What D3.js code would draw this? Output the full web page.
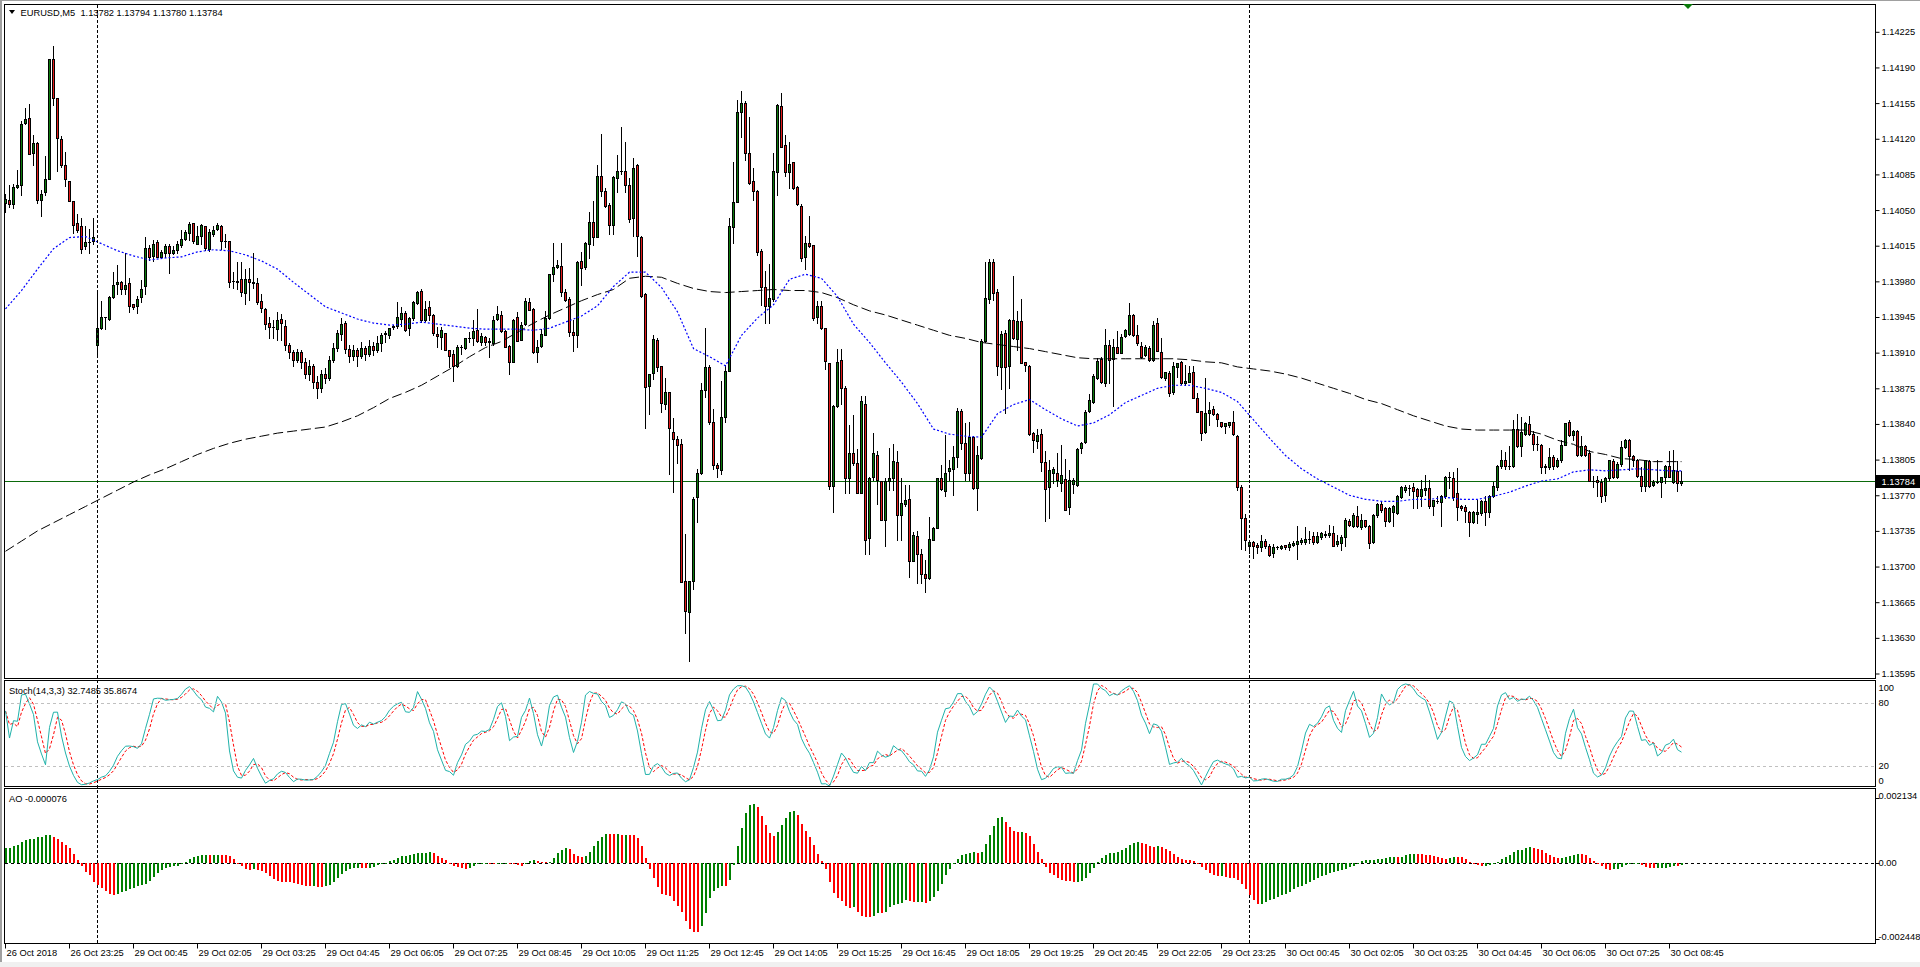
<!DOCTYPE html>
<html><head><meta charset="utf-8">
<script src="https://cdn.jsdelivr.net/npm/d3@7"></script>
<style>
html,body{margin:0;padding:0;background:#fff;overflow:hidden;}
svg{display:block;}
text{font-family:"Liberation Sans",Arial,sans-serif;font-size:9.3px;fill:#000;}
</style></head><body>
<svg id="c" width="1920" height="967"></svg>
<script>
// ---------------- DATA (EURUSD M5) ----------------
const opens=[
1.14057,1.14060,1.14056,1.14073,1.14075,1.14135,1.14140,1.14106,1.14116,1.14060,
1.14068,1.14080,1.14198,1.14160,1.14120,1.14094,1.14079,1.14059,1.14037,1.14034,
1.14015,1.14019,1.14020,1.13918,1.13934,1.13945,1.13943,1.13965,1.13977,1.13979,
1.13972,1.13978,1.13958,1.13956,1.13965,1.13975,1.14013,1.14005,1.14019,1.14004,
1.14008,1.14015,1.14008,1.14011,1.14016,1.14022,1.14027,1.14037,1.14017,1.14025,
1.14034,1.14012,1.14026,1.14031,1.14034,1.14020,1.14020,1.13980,1.13980,1.13982,
1.13969,1.13982,1.13979,1.13978,1.13961,1.13953,1.13939,1.13935,1.13933,1.13943,
1.13936,1.13918,1.13911,1.13903,1.13911,1.13901,1.13889,1.13897,1.13881,1.13875,
1.13889,1.13885,1.13903,1.13915,1.13928,1.13939,1.13914,1.13907,1.13913,1.13907,
1.13915,1.13909,1.13917,1.13913,1.13919,1.13928,1.13927,1.13935,1.13936,1.13943,
1.13949,1.13934,1.13944,1.13959,1.13971,1.13942,1.13955,1.13947,1.13928,1.13925,
1.13929,1.13913,1.13909,1.13897,1.13916,1.13915,1.13924,1.13924,1.13932,1.13920,
1.13925,1.13920,1.13919,1.13943,1.13947,1.13931,1.13917,1.13901,1.13945,1.13922,
1.13938,1.13960,1.13953,1.13911,1.13917,1.13927,1.13944,1.13987,1.13994,1.13995,
1.13970,1.13963,1.13930,1.13927,1.14000,1.13994,1.14017,1.14038,1.14024,1.14083,
1.14069,1.14055,1.14035,1.14081,1.14088,1.14088,1.14075,1.14042,1.14094,1.14024,
1.13968,1.13877,1.13890,1.13922,1.13897,1.13860,1.13871,1.13832,1.13825,1.13820,
1.13686,1.13655,1.13686,1.13768,1.13792,1.13873,1.13896,1.13842,1.13800,1.13795,
1.13847,1.13892,1.14033,1.14058,1.14146,1.14155,1.14106,1.14079,1.14069,1.14010,
1.13974,1.13956,1.13963,1.14087,1.14152,1.14114,1.14087,1.14097,1.14073,1.14054,
1.14004,1.14018,1.14016,1.13945,1.13956,1.13934,1.13900,1.13779,1.13858,1.13903,
1.13875,1.13787,1.13811,1.13802,1.13772,1.13860,1.13728,1.13788,1.13810,1.13784,
1.13746,1.13784,1.13787,1.13803,1.13751,1.13761,1.13766,1.13705,1.13730,1.13712,
1.13693,1.13689,1.13726,1.13738,1.13787,1.13774,1.13794,1.13796,1.13808,1.13853,
1.13821,1.13792,1.13827,1.13777,1.13807,1.13921,1.13963,1.13999,1.13970,1.13896,
1.13929,1.13897,1.13942,1.13923,1.13941,1.13901,1.13897,1.13831,1.13823,1.13830,
1.13803,1.13778,1.13792,1.13792,1.13782,1.13786,1.13758,1.13781,1.13780,1.13816,
1.13822,1.13853,1.13862,1.13885,1.13904,1.13880,1.13918,1.13904,1.13916,1.13910,
1.13926,1.13928,1.13947,1.13927,1.13917,1.13908,1.13915,1.13903,1.13939,1.13911,
1.13885,1.13890,1.13871,1.13896,1.13901,1.13880,1.13881,1.13891,1.13865,1.13853,
1.13832,1.13851,1.13855,1.13850,1.13842,1.13838,1.13839,1.13842,1.13828,1.13778,
1.13748,1.13720,1.13724,1.13721,1.13719,1.13725,1.13720,1.13713,1.13719,1.13718,
1.13721,1.13719,1.13721,1.13722,1.13724,1.13724,1.13727,1.13730,1.13724,1.13729,
1.13731,1.13731,1.13733,1.13722,1.13723,1.13729,1.13745,1.13740,1.13750,1.13739,
1.13746,1.13740,1.13724,1.13751,1.13761,1.13757,1.13745,1.13754,1.13753,1.13768,
1.13775,1.13777,1.13778,1.13776,1.13769,1.13775,1.13777,1.13759,1.13764,1.13763,
1.13769,1.13788,1.13787,1.13772,1.13759,1.13758,1.13754,1.13744,1.13752,1.13753,
1.13764,1.13754,1.13769,1.13778,1.13799,1.13805,1.13799,1.13799,1.13835,1.13818,
1.13830,1.13840,1.13830,1.13820,1.13819,1.13798,1.13798,1.13808,1.13799,1.13805,
1.13819,1.13842,1.13829,1.13833,1.13810,1.13818,1.13811,1.13784,1.13785,1.13783,
1.13770,1.13787,1.13804,1.13788,1.13801,1.13817,1.13824,1.13809,1.13805,1.13789,
1.13779,1.13804,1.13780,1.13783,1.13783,1.13788,1.13799,1.13783,1.13794,1.13782];
const highs=[
1.14066,1.14075,1.14076,1.14089,1.14137,1.14150,1.14154,1.14124,1.14117,1.14070,
1.14103,1.14198,1.14211,1.14160,1.14123,1.14107,1.14079,1.14059,1.14046,1.14042,
1.14034,1.14031,1.14042,1.13969,1.13961,1.13945,1.13966,1.13989,1.13996,1.13980,
1.14008,1.13983,1.13958,1.13966,1.13981,1.14024,1.14016,1.14021,1.14021,1.14011,
1.14017,1.14017,1.14015,1.14020,1.14030,1.14030,1.14038,1.14037,1.14034,1.14036,
1.14034,1.14031,1.14034,1.14037,1.14035,1.14026,1.14020,1.13989,1.13999,1.13999,
1.13992,1.13993,1.14008,1.13983,1.13968,1.13954,1.13945,1.13942,1.13950,1.13948,
1.13942,1.13919,1.13913,1.13914,1.13913,1.13905,1.13903,1.13899,1.13887,1.13893,
1.13895,1.13907,1.13919,1.13932,1.13944,1.13941,1.13918,1.13918,1.13915,1.13920,
1.13917,1.13922,1.13920,1.13926,1.13929,1.13931,1.13934,1.13937,1.13960,1.13955,
1.13951,1.13945,1.13961,1.13971,1.13972,1.13961,1.13961,1.13948,1.13935,1.13935,
1.13929,1.13913,1.13913,1.13918,1.13918,1.13924,1.13930,1.13942,1.13953,1.13929,
1.13926,1.13924,1.13946,1.13956,1.13951,1.13932,1.13918,1.13943,1.13950,1.13940,
1.13964,1.13964,1.13954,1.13922,1.13933,1.13951,1.13987,1.14018,1.14001,1.14018,
1.13972,1.13965,1.13942,1.14000,1.14009,1.14019,1.14048,1.14059,1.14094,1.14125,
1.14072,1.14057,1.14083,1.14104,1.14132,1.14117,1.14081,1.14101,1.14095,1.14025,
1.13969,1.13889,1.13927,1.13924,1.13897,1.13885,1.13871,1.13846,1.13828,1.13825,
1.13732,1.13686,1.13768,1.13796,1.13880,1.13934,1.13898,1.13855,1.13802,1.13882,
1.13898,1.14042,1.14097,1.14158,1.14167,1.14157,1.14141,1.14091,1.14070,1.14012,
1.13990,1.13997,1.14106,1.14154,1.14165,1.14124,1.14117,1.14097,1.14074,1.14056,
1.14025,1.14044,1.14016,1.13961,1.13961,1.13934,1.13900,1.13859,1.13914,1.13914,
1.13877,1.13839,1.13849,1.13815,1.13867,1.13867,1.13788,1.13831,1.13813,1.13784,
1.13787,1.13816,1.13820,1.13813,1.13787,1.13780,1.13780,1.13734,1.13735,1.13717,
1.13706,1.13749,1.13739,1.13787,1.13800,1.13829,1.13805,1.13818,1.13856,1.13855,
1.13841,1.13842,1.13828,1.13818,1.13923,1.13999,1.14002,1.14002,1.13972,1.13931,
1.13932,1.13943,1.13985,1.13951,1.13963,1.13901,1.13898,1.13832,1.13835,1.13835,
1.13813,1.13805,1.13798,1.13811,1.13819,1.13806,1.13795,1.13787,1.13816,1.13822,
1.13854,1.13869,1.13889,1.13905,1.13906,1.13933,1.13922,1.13923,1.13931,1.13928,
1.13933,1.13959,1.13948,1.13937,1.13920,1.13918,1.13917,1.13941,1.13944,1.13924,
1.13891,1.13892,1.13901,1.13900,1.13902,1.13898,1.13897,1.13897,1.13870,1.13853,
1.13885,1.13862,1.13858,1.13851,1.13842,1.13841,1.13842,1.13853,1.13829,1.13780,
1.13752,1.13726,1.13725,1.13723,1.13731,1.13727,1.13722,1.13722,1.13720,1.13721,
1.13721,1.13724,1.13725,1.13740,1.13728,1.13739,1.13735,1.13734,1.13734,1.13734,
1.13735,1.13741,1.13740,1.13731,1.13731,1.13748,1.13747,1.13753,1.13759,1.13752,
1.13746,1.13741,1.13752,1.13762,1.13763,1.13758,1.13758,1.13760,1.13770,1.13779,
1.13780,1.13780,1.13782,1.13777,1.13785,1.13790,1.13785,1.13765,1.13769,1.13770,
1.13789,1.13793,1.13793,1.13797,1.13760,1.13760,1.13755,1.13755,1.13765,1.13765,
1.13769,1.13770,1.13783,1.13800,1.13814,1.13812,1.13818,1.13844,1.13850,1.13847,
1.13842,1.13848,1.13833,1.13828,1.13820,1.13801,1.13816,1.13810,1.13807,1.13824,
1.13841,1.13844,1.13834,1.13834,1.13828,1.13819,1.13814,1.13789,1.13789,1.13786,
1.13788,1.13805,1.13806,1.13803,1.13823,1.13825,1.13825,1.13810,1.13806,1.13798,
1.13805,1.13805,1.13785,1.13805,1.13788,1.13800,1.13813,1.13814,1.13804,1.13794];
const lows=[
1.14048,1.14053,1.14052,1.14072,1.14065,1.14134,1.14105,1.14094,1.14057,1.14044,
1.14065,1.14080,1.14153,1.14088,1.14092,1.14074,1.14059,1.14027,1.14028,1.14008,
1.14012,1.14008,1.14017,1.13908,1.13933,1.13933,1.13942,1.13964,1.13968,1.13968,
1.13968,1.13950,1.13953,1.13949,1.13960,1.13968,1.14001,1.14000,1.14004,1.14003,
1.14004,1.13988,1.14007,1.14008,1.14014,1.14021,1.14021,1.14018,1.14017,1.14017,
1.14011,1.14010,1.14025,1.14030,1.14012,1.14014,1.13974,1.13973,1.13972,1.13966,
1.13958,1.13962,1.13973,1.13958,1.13950,1.13933,1.13924,1.13924,1.13922,1.13922,
1.13913,1.13905,1.13897,1.13901,1.13895,1.13885,1.13883,1.13875,1.13865,1.13871,
1.13880,1.13883,1.13901,1.13912,1.13922,1.13910,1.13901,1.13903,1.13897,1.13905,
1.13903,1.13907,1.13908,1.13911,1.13912,1.13920,1.13924,1.13933,1.13934,1.13936,
1.13931,1.13927,1.13942,1.13958,1.13940,1.13941,1.13942,1.13927,1.13916,1.13914,
1.13913,1.13896,1.13882,1.13896,1.13909,1.13914,1.13920,1.13918,1.13920,1.13918,
1.13918,1.13906,1.13918,1.13942,1.13930,1.13916,1.13889,1.13901,1.13921,1.13922,
1.13937,1.13952,1.13910,1.13901,1.13916,1.13927,1.13943,1.13980,1.13993,1.13966,
1.13961,1.13926,1.13912,1.13916,1.13976,1.13992,1.14003,1.14016,1.14024,1.14064,
1.14053,1.14026,1.14026,1.14068,1.14085,1.14068,1.14038,1.14025,1.14005,1.13965,
1.13836,1.13850,1.13884,1.13892,1.13852,1.13855,1.13791,1.13773,1.13802,1.13685,
1.13635,1.13607,1.13678,1.13744,1.13791,1.13866,1.13840,1.13796,1.13788,1.13791,
1.13842,1.13892,1.14018,1.14058,1.14122,1.14099,1.14076,1.14060,1.14006,1.13957,
1.13939,1.13939,1.13961,1.14065,1.14112,1.14083,1.14072,1.14071,1.14055,1.14000,
1.13992,1.14014,1.13942,1.13939,1.13933,1.13894,1.13776,1.13754,1.13857,1.13860,
1.13772,1.13772,1.13800,1.13772,1.13772,1.13712,1.13712,1.13785,1.13761,1.13746,
1.13720,1.13775,1.13775,1.13726,1.13726,1.13759,1.13690,1.13705,1.13684,1.13684,
1.13675,1.13688,1.13726,1.13738,1.13775,1.13769,1.13785,1.13770,1.13798,1.13815,
1.13785,1.13785,1.13776,1.13756,1.13806,1.13920,1.13959,1.13962,1.13888,1.13874,
1.13851,1.13875,1.13923,1.13913,1.13900,1.13892,1.13829,1.13812,1.13816,1.13794,
1.13745,1.13748,1.13782,1.13779,1.13774,1.13756,1.13752,1.13772,1.13779,1.13811,
1.13821,1.13852,1.13861,1.13884,1.13880,1.13877,1.13880,1.13858,1.13910,1.13910,
1.13925,1.13927,1.13926,1.13918,1.13905,1.13907,1.13902,1.13902,1.13912,1.13885,
1.13883,1.13867,1.13869,1.13886,1.13879,1.13878,1.13881,1.13865,1.13852,1.13824,
1.13831,1.13839,1.13849,1.13838,1.13837,1.13831,1.13837,1.13829,1.13775,1.13717,
1.13716,1.13713,1.13708,1.13713,1.13715,1.13718,1.13710,1.13709,1.13717,1.13717,
1.13717,1.13716,1.13720,1.13707,1.13722,1.13722,1.13723,1.13722,1.13723,1.13727,
1.13729,1.13729,1.13720,1.13720,1.13716,1.13720,1.13740,1.13739,1.13739,1.13737,
1.13739,1.13718,1.13723,1.13749,1.13754,1.13740,1.13744,1.13740,1.13752,1.13767,
1.13773,1.13770,1.13757,1.13757,1.13759,1.13770,1.13757,1.13751,1.13762,1.13740,
1.13767,1.13777,1.13765,1.13746,1.13756,1.13744,1.13730,1.13743,1.13743,1.13751,
1.13741,1.13749,1.13768,1.13775,1.13797,1.13796,1.13796,1.13798,1.13817,1.13809,
1.13829,1.13829,1.13814,1.13814,1.13792,1.13792,1.13796,1.13796,1.13798,1.13803,
1.13819,1.13828,1.13824,1.13809,1.13809,1.13809,1.13784,1.13778,1.13769,1.13763,
1.13764,1.13785,1.13787,1.13787,1.13799,1.13816,1.13795,1.13799,1.13788,1.13774,
1.13774,1.13778,1.13779,1.13782,1.13768,1.13782,1.13788,1.13782,1.13774,1.13780];
const closes=[
1.14061,1.14056,1.14073,1.14075,1.14134,1.14139,1.14105,1.14116,1.14060,1.14066,
1.14080,1.14198,1.14160,1.14121,1.14094,1.14080,1.14059,1.14035,1.14030,1.14012,
1.14019,1.14019,1.14024,1.13934,1.13945,1.13945,1.13965,1.13976,1.13979,1.13972,
1.13976,1.13956,1.13955,1.13963,1.13972,1.14013,1.14004,1.14017,1.14004,1.14009,
1.14015,1.14008,1.14011,1.14017,1.14022,1.14028,1.14036,1.14020,1.14025,1.14035,
1.14013,1.14028,1.14030,1.14035,1.14020,1.14020,1.13979,1.13980,1.13979,1.13970,
1.13982,1.13979,1.13978,1.13960,1.13954,1.13938,1.13935,1.13935,1.13942,1.13939,
1.13918,1.13911,1.13903,1.13911,1.13901,1.13889,1.13897,1.13881,1.13875,1.13889,
1.13885,1.13903,1.13915,1.13929,1.13938,1.13914,1.13907,1.13913,1.13907,1.13915,
1.13909,1.13917,1.13913,1.13919,1.13927,1.13929,1.13934,1.13936,1.13945,1.13949,
1.13932,1.13944,1.13960,1.13970,1.13942,1.13953,1.13947,1.13929,1.13926,1.13932,
1.13913,1.13907,1.13897,1.13916,1.13916,1.13924,1.13924,1.13931,1.13921,1.13926,
1.13920,1.13921,1.13942,1.13948,1.13931,1.13916,1.13901,1.13942,1.13921,1.13937,
1.13961,1.13952,1.13911,1.13916,1.13928,1.13944,1.13987,1.13994,1.13996,1.13970,
1.13962,1.13930,1.13927,1.13999,1.13993,1.14018,1.14038,1.14024,1.14083,1.14069,
1.14054,1.14035,1.14082,1.14088,1.14088,1.14075,1.14041,1.14091,1.14025,1.13966,
1.13876,1.13889,1.13923,1.13896,1.13861,1.13871,1.13836,1.13825,1.13819,1.13685,
1.13656,1.13686,1.13766,1.13792,1.13873,1.13896,1.13842,1.13800,1.13797,1.13847,
1.13892,1.14034,1.14058,1.14146,1.14155,1.14106,1.14077,1.14069,1.14009,1.13974,
1.13956,1.13964,1.14088,1.14153,1.14112,1.14087,1.14095,1.14072,1.14056,1.14003,
1.14018,1.14015,1.13944,1.13956,1.13934,1.13902,1.13779,1.13858,1.13901,1.13875,
1.13787,1.13811,1.13802,1.13772,1.13863,1.13726,1.13787,1.13811,1.13785,1.13746,
1.13784,1.13787,1.13804,1.13751,1.13762,1.13765,1.13705,1.13731,1.13712,1.13693,
1.13689,1.13727,1.13738,1.13787,1.13776,1.13792,1.13797,1.13808,1.13853,1.13821,
1.13792,1.13827,1.13777,1.13810,1.13921,1.13964,1.13999,1.13969,1.13897,1.13928,
1.13896,1.13942,1.13924,1.13941,1.13900,1.13898,1.13830,1.13824,1.13829,1.13803,
1.13776,1.13795,1.13796,1.13785,1.13790,1.13756,1.13785,1.13785,1.13815,1.13821,
1.13852,1.13864,1.13887,1.13902,1.13881,1.13918,1.13903,1.13916,1.13910,1.13925,
1.13932,1.13947,1.13927,1.13919,1.13906,1.13916,1.13903,1.13937,1.13912,1.13886,
1.13891,1.13870,1.13897,1.13900,1.13880,1.13882,1.13890,1.13865,1.13852,1.13831,
1.13851,1.13854,1.13850,1.13845,1.13838,1.13841,1.13842,1.13830,1.13778,1.13748,
1.13726,1.13724,1.13720,1.13719,1.13725,1.13720,1.13711,1.13719,1.13719,1.13720,
1.13719,1.13722,1.13723,1.13725,1.13726,1.13727,1.13727,1.13724,1.13730,1.13733,
1.13732,1.13733,1.13720,1.13725,1.13729,1.13746,1.13741,1.13751,1.13740,1.13746,
1.13740,1.13723,1.13751,1.13761,1.13756,1.13745,1.13757,1.13759,1.13769,1.13778,
1.13778,1.13777,1.13774,1.13769,1.13776,1.13777,1.13759,1.13765,1.13764,1.13769,
1.13788,1.13788,1.13768,1.13758,1.13757,1.13755,1.13744,1.13754,1.13754,1.13764,
1.13754,1.13769,1.13779,1.13799,1.13805,1.13799,1.13799,1.13835,1.13818,1.13832,
1.13841,1.13830,1.13820,1.13820,1.13798,1.13799,1.13808,1.13799,1.13805,1.13819,
1.13841,1.13829,1.13833,1.13810,1.13818,1.13810,1.13784,1.13784,1.13783,1.13769,
1.13787,1.13805,1.13788,1.13801,1.13817,1.13824,1.13809,1.13805,1.13789,1.13779,
1.13805,1.13779,1.13783,1.13783,1.13788,1.13799,1.13788,1.13795,1.13782,1.13784];

// moving averages, one value every 4th bar (+ last bar)
const maBars = d3.range(0, 420, 4).concat([419]);
const blueMA=[
1.13953,1.13971,1.13992,1.14012,1.14023,1.14024,1.14017,1.14010,1.14005,1.14001,
1.14003,1.14004,1.14009,1.14011,1.14010,1.14006,1.14000,1.13992,1.13979,1.13967,
1.13955,1.13949,1.13943,1.13939,1.13937,1.13938,1.13940,1.13938,1.13936,1.13934,
1.13933,1.13933,1.13933,1.13932,1.13934,1.13940,1.13946,1.13956,1.13975,1.13989,
1.13989,1.13974,1.13950,1.13914,1.13906,1.13897,1.13927,1.13944,1.13957,1.13982,
1.13987,1.13983,1.13965,1.13938,1.13920,1.13900,1.13881,1.13860,1.13835,1.13830,
1.13828,1.13827,1.13850,1.13859,1.13864,1.13854,1.13845,1.13838,1.13841,1.13849,
1.13861,1.13868,1.13875,1.13878,1.13878,1.13875,1.13871,1.13862,1.13844,1.13826,
1.13809,1.13796,1.13786,1.13778,1.13770,1.13766,1.13764,1.13764,1.13766,1.13766,
1.13768,1.13766,1.13766,1.13769,1.13773,1.13779,1.13784,1.13786,1.13793,1.13795,
1.13794,1.13795,1.13796,1.13795,1.13794,1.13794];
const blackMA=[
1.13715,1.13725,1.13735,1.13743,1.13751,1.13759,1.13767,1.13775,1.13783,1.13790,
1.13796,1.13803,1.13810,1.13816,1.13821,1.13825,1.13828,1.13831,1.13833,1.13835,
1.13837,1.13842,1.13848,1.13856,1.13865,1.13871,1.13878,1.13887,1.13896,1.13906,
1.13915,1.13921,1.13930,1.13939,1.13947,1.13954,1.13961,1.13967,1.13972,1.13983,
1.13985,1.13984,1.13978,1.13973,1.13970,1.13969,1.13970,1.13971,1.13972,1.13971,
1.13971,1.13969,1.13964,1.13957,1.13951,1.13947,1.13942,1.13937,1.13932,1.13927,
1.13924,1.13920,1.13918,1.13916,1.13914,1.13911,1.13908,1.13905,1.13904,1.13904,
1.13904,1.13904,1.13904,1.13904,1.13903,1.13901,1.13900,1.13896,1.13894,1.13892,
1.13889,1.13885,1.13880,1.13875,1.13870,1.13864,1.13860,1.13854,1.13848,1.13843,
1.13838,1.13835,1.13834,1.13834,1.13834,1.13834,1.13830,1.13824,1.13820,1.13813,
1.13810,1.13806,1.13805,1.13803,1.13803,1.13803];
// AO values for the first 34 bars (their 34-bar history is off-screen)
const aoLead=[
0.00050,0.00050,0.00055,0.00060,0.00070,0.00075,0.00080,0.00080,0.00085,0.00085,
0.00090,0.00090,0.00085,0.00080,0.00070,0.00060,0.00050,0.00030,0.00010,-0.00010,
-0.00030,-0.00040,-0.00060,-0.00070,-0.00080,-0.00090,-0.00100,-0.00105,-0.00100,-0.00095,
-0.00090,-0.00085,-0.00080,-0.00075];

// axis / label data
const priceTicks=[1.14225,1.14190,1.14155,1.14120,1.14085,1.14050,1.14015,1.13980,1.13945,1.13910,
  1.13875,1.13840,1.13805,1.13770,1.13735,1.13700,1.13665,1.13630,1.13595];
const bidPrice=1.13784;
const timeBars=d3.range(0, 420, 16);
const timeLabels=["26 Oct 2018","26 Oct 23:25","29 Oct 00:45","29 Oct 02:05","29 Oct 03:25","29 Oct 04:45",
 "29 Oct 06:05","29 Oct 07:25","29 Oct 08:45","29 Oct 10:05","29 Oct 11:25","29 Oct 12:45","29 Oct 14:05",
 "29 Oct 15:25","29 Oct 16:45","29 Oct 18:05","29 Oct 19:25","29 Oct 20:45","29 Oct 22:05","29 Oct 23:25",
 "30 Oct 00:45","30 Oct 02:05","30 Oct 03:25","30 Oct 04:45","30 Oct 06:05","30 Oct 07:25","30 Oct 08:45"];
const daySeparators=[23, 311];
const stochLevels=[80, 20];
const stochAxis=[100, 80, 20, 0];
const aoAxis=[0.002134, 0, -0.002448];
const titleText="EURUSD,M5  1.13782 1.13794 1.13780 1.13784";
const stochTitle="Stoch(14,3,3) 32.7485 35.8674";
const aoTitle="AO -0.000076";

// ---------------- LAYOUT ----------------
const PL=4.5, PR=1875.5;
const MAIN=[4.5,678.5], STO=[680.5,786.5], AOP=[788.5,943.5];
const n=closes.length;
const x=d3.scaleLinear().domain([0,419]).range([5,1681]);
const y=d3.scaleLinear().domain([1.13595,1.14225]).range([673.5,31.8]);
const ys=d3.scaleLinear().domain([0,100]).range([787.5,681.5]);
const ya=d3.scaleLinear().domain([-0.002448,0.002134]).range([938.5,797.5]);

const svg=d3.select("#c");
svg.append("rect").attr("width",1920).attr("height",967).attr("fill","#fff");
// window frame
svg.append("rect").attr("x",0).attr("y",0).attr("width",2).attr("height",967).attr("fill","#a0a0a0");
svg.append("rect").attr("x",0).attr("y",0).attr("width",1920).attr("height",1).attr("fill","#a0a0a0");
svg.append("rect").attr("x",0).attr("y",962).attr("width",1920).attr("height",5).attr("fill","#f0f0f0");

const defs=svg.append("defs");
[["cm",MAIN],["cs",STO],["ca",AOP]].forEach(([id,p])=>{
  defs.append("clipPath").attr("id",id).append("rect")
    .attr("x",PL+0.5).attr("y",p[0]+0.5).attr("width",PR-PL-1).attr("height",p[1]-p[0]-1);
});

// ---- main panel ----
const gm=svg.append("g").attr("clip-path","url(#cm)");
const sepG=svg.append("g");
daySeparators.forEach(b=>{
  sepG.append("line").attr("x1",Math.round(x(b))+0.5).attr("x2",Math.round(x(b))+0.5)
    .attr("y1",MAIN[0]).attr("y2",AOP[1]).attr("stroke","#000").attr("stroke-dasharray","3,2")
    .attr("shape-rendering","crispEdges");
});
gm.append("line").attr("x1",PL).attr("x2",PR).attr("y1",Math.round(y(bidPrice))+0.5).attr("y2",Math.round(y(bidPrice))+0.5)
  .attr("stroke","#0b6a0b").attr("shape-rendering","crispEdges");

const bars=d3.range(n).map(i=>({i,o:opens[i],h:highs[i],l:lows[i],c:closes[i]}));
const cg=gm.append("g").attr("shape-rendering","crispEdges");
cg.selectAll("line.w").data(bars).join("line").attr("class","w")
  .attr("x1",d=>Math.round(x(d.i))+0.5).attr("x2",d=>Math.round(x(d.i))+0.5)
  .attr("y1",d=>Math.round(y(d.h))).attr("y2",d=>Math.round(y(d.l))+1)
  .attr("stroke","#000");
bars.forEach(d=>{
  const cx=Math.round(x(d.i));
  const top=Math.round(y(Math.max(d.o,d.c))), bot=Math.round(y(Math.min(d.o,d.c)));
  if(bot-top<1){
    cg.append("line").attr("x1",cx-1).attr("x2",cx+2).attr("y1",top+0.5).attr("y2",top+0.5).attr("stroke","#000");
  } else {
    cg.append("rect").attr("x",cx-0.5).attr("y",top+0.5).attr("width",2).attr("height",bot-top)
      .attr("fill",d.c>=d.o?"#0c7a0c":"#e41b1b").attr("stroke","#000").attr("stroke-width",1);
  }
});
const maPts=(arr)=>maBars.map((b,k)=>({i:b,v:arr[k]}));
const lineP=d3.line().x(d=>x(d.i)+0.5).y(d=>y(d.v));
gm.append("path").attr("d",lineP(maPts(blackMA))).attr("fill","none").attr("stroke","#000")
  .attr("stroke-width",1).attr("stroke-dasharray","10,4");
gm.append("path").attr("d",lineP(maPts(blueMA))).attr("fill","none").attr("stroke","#0000ff")
  .attr("stroke-width",1.2).attr("stroke-dasharray","2,2");

// ---- stochastic (14,3,3) from OHLC ----
const kP=14, slow=3, dP=3;
const num=[], den=[];
for(let i=0;i<n;i++){
  const s=Math.max(0,i-kP+1);
  const lo=d3.min(lows.slice(s,i+1)), hi=d3.max(highs.slice(s,i+1));
  num.push(closes[i]-lo); den.push(hi-lo);
}
const stMain=[], stSig=[];
for(let i=0;i<n;i++){
  const s=Math.max(0,i-slow+1);
  const nn=d3.sum(num.slice(s,i+1)), dd=d3.sum(den.slice(s,i+1));
  stMain.push(dd>0?nn/dd*100:50);
}
for(let i=0;i<n;i++){ const s=Math.max(0,i-dP+1); stSig.push(d3.mean(stMain.slice(s,i+1))); }
const gs=svg.append("g").attr("clip-path","url(#cs)");
stochLevels.forEach(v=>{
  svg.append("line").attr("x1",PL).attr("x2",PR).attr("y1",Math.round(ys(v))+0.5).attr("y2",Math.round(ys(v))+0.5)
   .attr("stroke","#c0c0c0").attr("stroke-dasharray","3,3").attr("shape-rendering","crispEdges");
});
const sl=d3.line().x((d,i)=>x(i)+0.5).y(d=>ys(d));
gs.append("path").attr("d",sl(stSig)).attr("fill","none").attr("stroke","#ff0000").attr("stroke-dasharray","3,2");
gs.append("path").attr("d",sl(stMain)).attr("fill","none").attr("stroke","#20b2aa");

// ---- awesome oscillator: SMA5 - SMA34 of median price ----
const med=d3.range(n).map(i=>(highs[i]+lows[i])/2);
const ao=d3.range(n).map(i=> i<aoLead.length ? aoLead[i]
   : d3.mean(med.slice(i-4,i+1))-d3.mean(med.slice(i-33,i+1)));
const ga=svg.append("g").attr("clip-path","url(#ca)").attr("shape-rendering","crispEdges");
ga.append("line").attr("x1",PL).attr("x2",PR).attr("y1",Math.round(ya(0))+0.5).attr("y2",Math.round(ya(0))+0.5)
  .attr("stroke","#000").attr("stroke-dasharray","3,3");
ga.selectAll("rect.ao").data(ao).join("rect").attr("class","ao")
  .attr("x",(d,i)=>Math.round(x(i))-0.5).attr("width",2)
  .attr("y",d=>Math.round(Math.min(ya(d),ya(0))))
  .attr("height",d=>Math.max(1,Math.abs(Math.round(ya(d))-Math.round(ya(0)))))
  .attr("fill",(d,i)=>(i>0&&d<ao[i-1])?"#ff0000":"#008000");

// ---- panel borders ----
[MAIN,STO,AOP].forEach(p=>{
  svg.append("rect").attr("x",PL).attr("y",p[0]).attr("width",PR-PL).attr("height",p[1]-p[0])
    .attr("fill","none").attr("stroke","#000").attr("shape-rendering","crispEdges");
});

// ---- price axis ----
const pa=svg.append("g").attr("transform",`translate(${PR},0)`)
  .call(d3.axisRight(y).tickValues(priceTicks).tickSize(4).tickPadding(2).tickFormat(d3.format(".5f")));
pa.select(".domain").remove();
pa.selectAll("text").style("font-family","Liberation Sans, Arial, sans-serif").style("font-size","9.3px").attr("fill","#000");
pa.selectAll("line").attr("stroke","#000");
const by=Math.round(y(bidPrice));
svg.append("rect").attr("x",PR+0.5).attr("y",by-6).attr("width",44).attr("height",13).attr("fill","#000");
svg.append("text").attr("x",PR+6).attr("y",by+0.5).attr("dominant-baseline","central")
  .style("fill","#fff").text(d3.format(".5f")(bidPrice));

stochAxis.forEach(v=>{
  let ty=ys(v); if(v===100) ty+=6.5; if(v===0) ty-=6.5;
  svg.append("text").attr("x",PR+3).attr("y",ty).attr("dominant-baseline","central").text(v);
});
aoAxis.forEach(v=>{
  let ty=ya(v); if(v>0) ty-=2; if(v<0) ty-=1.5;
  svg.append("line").attr("x1",PR).attr("x2",PR+4).attr("y1",Math.round(ya(v))+0.5).attr("y2",Math.round(ya(v))+0.5).attr("stroke","#000");
  svg.append("text").attr("x",PR+3).attr("y",ty).attr("dominant-baseline","central")
    .text(v===0?"0.00":String(v));
});

// ---- time axis ----
const tg=svg.append("g");
timeBars.forEach((b,k)=>{
  const tx=Math.round(x(b))+0.5;
  tg.append("line").attr("x1",tx).attr("x2",tx).attr("y1",AOP[1]).attr("y2",AOP[1]+5).attr("stroke","#000");
  tg.append("text").attr("x",tx+1).attr("y",953).attr("dominant-baseline","central").text(timeLabels[k]);
});

// ---- titles ----
svg.append("path").attr("d","M9,10 L15,10 L12,14 Z").attr("fill","#000");
svg.append("text").attr("x",20.5).attr("y",12.5).attr("dominant-baseline","central").style("white-space","pre").text(titleText);
svg.append("text").attr("x",9).attr("y",690.5).attr("dominant-baseline","central").text(stochTitle);
svg.append("text").attr("x",9).attr("y",798.5).attr("dominant-baseline","central").text(aoTitle);
svg.append("path").attr("d","M1683,4 L1693,4 L1688,9 Z").attr("fill","#0a7a0a");
</script>
</body></html>
